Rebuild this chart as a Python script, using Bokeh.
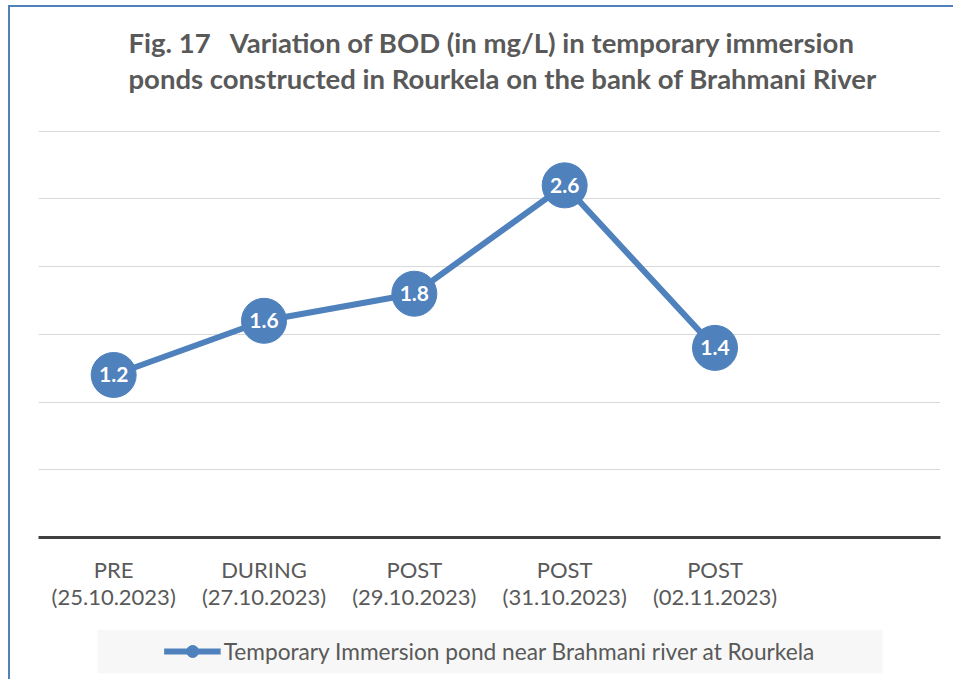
from bokeh.plotting import figure
from bokeh.layouts import column
from bokeh.models import (Range1d, Legend, LegendItem, LinearAxis, BoxAnnotation,
                          SingleIntervalTicker, FixedTicker, ColumnDataSource)
from bokeh.core.properties import value
from bokeh.embed import file_html
from bokeh.resources import INLINE

# ---- data ----
phases = ["PRE", "DURING", "POST", "POST", "POST"]
dates = ["25.10.2023", "27.10.2023", "29.10.2023", "31.10.2023", "02.11.2023"]
bod = [1.2, 1.6, 1.8, 2.6, 1.4]
n_slots = 6  # category slots on the x axis (last one empty)
series_name = "Temporary Immersion pond near Brahmani river at Rourkela"
title_lines = ["Fig. 17\u00a0\u00a0 Variation of BOD (in mg/L) in temporary immersion",
               "ponds constructed in Rourkela on the bank of Brahmani River"]

BLUE = "#4f81bd"
GREY_TEXT = "#595959"
FONT = "Lato"

xs = [i + 0.5 for i in range(len(bod))]
src = ColumnDataSource(dict(x=xs, y=bod, lbl=[f"{v:.1f}" for v in bod]))

p = figure(frame_width=902, frame_height=407, x_range=Range1d(0, n_slots),
           y_range=Range1d(0, 3.005), output_backend="svg", toolbar_location=None,
           tools="", min_border_left=28, min_border_right=13,
           min_border_top=123, min_border_bottom=92)
p.outline_line_color = None
p.background_fill_color = "white"
p.border_fill_color = "white"

# title (an empty last line keeps the two text lines clear of the plot area)
p.title.text = "\n".join(title_lines + ["\u00a0"])
p.title.align = "left"
p.title.offset = 90
p.title.text_font = FONT
p.title.text_font_style = "bold"
p.title.text_font_size = "27.5px"
p.title.text_color = GREY_TEXT
p.title.text_line_height = 1.09
p.title.standoff = 0

# axes / grid
p.yaxis.visible = False
p.xgrid.visible = False
p.ygrid.ticker = SingleIntervalTicker(interval=0.5)
p.ygrid.grid_line_color = "#d9d9d9"
p.ygrid.grid_line_width = 1


def style_axis(ax, standoff):
    ax.major_tick_line_color = None
    ax.minor_tick_line_color = None
    ax.major_tick_out = 0
    ax.major_tick_in = 0
    ax.minor_tick_out = 0
    ax.minor_tick_in = 0
    ax.major_label_standoff = standoff
    ax.major_label_text_font = FONT
    ax.major_label_text_font_size = "22px"
    ax.major_label_text_color = GREY_TEXT


xa = p.xaxis[0]
xa.ticker = FixedTicker(ticks=xs)
xa.major_label_overrides = {x: ph for x, ph in zip(xs, phases)}
xa.axis_line_color = "#404040"
xa.axis_line_width = 3
style_axis(xa, 18)

xa2 = LinearAxis(ticker=FixedTicker(ticks=xs),
                 major_label_overrides={x: f"({d})" for x, d in zip(xs, dates)})
xa2.axis_line_color = None
style_axis(xa2, -3)
p.add_layout(xa2, "below")

# series
p.line(x="x", y="y", source=src, line_color=BLUE, line_width=6)
p.scatter(x="x", y="y", source=src, size=45, fill_color=BLUE, line_color=BLUE)
p.text(x="x", y="y", text="lbl", source=src, text_color="white",
       text_font=value(FONT), text_font_style="bold", text_font_size="21px",
       text_align="center", text_baseline="middle")

# ---- legend strip (separate panel under the chart, same frame width) ----
lg = figure(frame_width=902, frame_height=44, x_range=Range1d(0, 902), y_range=Range1d(-1, 0),
            output_backend="svg", toolbar_location=None, tools="",
            min_border_left=28, min_border_right=13, min_border_top=0, min_border_bottom=6)
lg.xaxis.visible = False
lg.yaxis.visible = False
lg.grid.visible = False
lg.outline_line_color = None
lg.background_fill_color = "white"
lg.border_fill_color = "white"
lg.add_layout(BoxAnnotation(left=59, right=844, fill_color="#f7f7f7", fill_alpha=1,
                            line_color=None, level="underlay"))
# legend proxies: same series, lying outside this strip's visible range
lr = lg.line(x="x", y="y", source=src, line_color=BLUE, line_width=6)
lm = lg.scatter(x="x", y="y", source=src, size=12, fill_color=BLUE, line_color=BLUE)
legend = Legend(items=[LegendItem(label=series_name, renderers=[lr, lm])],
                orientation="horizontal", location="center")
legend.label_text_font = FONT
legend.label_text_font_size = "22.7px"
legend.label_text_color = GREY_TEXT
legend.glyph_width = 57
legend.glyph_height = 30
legend.label_standoff = 3
legend.label_height = 25
legend.padding = 0
legend.margin = 0
legend.background_fill_alpha = 0
legend.border_line_color = None
lg.add_layout(legend, "center")

layout = column(p, lg, spacing=0)
layout.styles = {"border-left": f"2px solid {BLUE}", "border-top": f"2px solid {BLUE}",
                 "margin-top": "5px", "margin-left": "8px"}

open("out.html", "w").write(file_html(layout, INLINE))
